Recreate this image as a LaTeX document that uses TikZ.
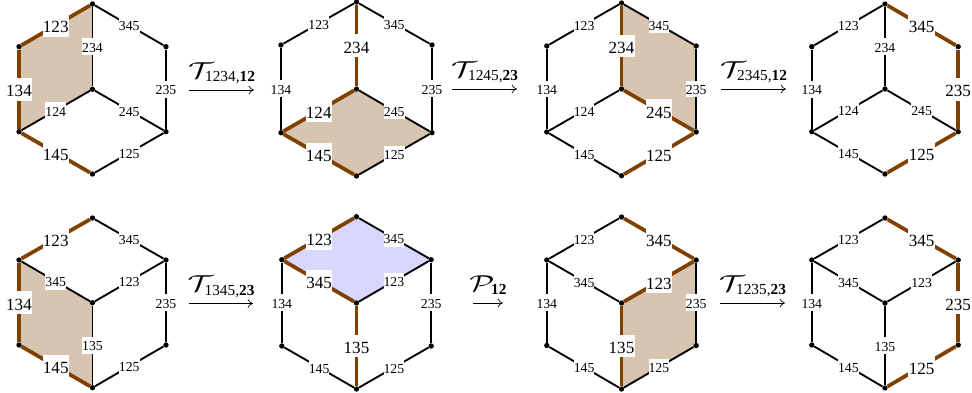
\documentclass[tikz,border=0pt]{standalone}
\usepackage{fontspec}
\setmainfont{Liberation Serif}
\usetikzlibrary{backgrounds,arrows.meta}
\definecolor{edgebrown}{HTML}{7F4000}
\definecolor{facetan}{HTML}{D8C5B1}
\definecolor{faceblue}{HTML}{D8D8FF}
\tikzset{
  vtx/.style={circle,fill=black,inner sep=0pt,minimum size=4pt},
  cold/.style={black,line width=1.4pt},
  hot/.style={edgebrown,line width=2.8pt},
  cold label/.style={fill=white,text=black,font=\fontsize{10.3}{11}\selectfont,inner xsep=0pt,inner ysep=0pt,text height=10.5pt,text depth=2.2pt},
  hot label/.style={fill=white,text=black,font=\fontsize{12.8}{14}\selectfont,inner xsep=0.3pt,inner ysep=0pt,text height=14.2pt,text depth=2.8pt},
  oparrow/.style={-{Computer Modern Rightarrow[length=4pt,width=6.5pt]},line width=0.5pt,black},
  oplabel/.style={anchor=base,yshift=8.8pt,inner sep=0pt,font=\fontsize{11.5}{12}\selectfont}
}
\begin{document}
\begin{tikzpicture}[x=0.75pt,y=-0.75pt]
    \useasboundingbox (0,0) rectangle (972,393);
    % operator name, kern, lower index
    \def\opname#1#2#3{{\fontsize{17}{18}\selectfont\scalebox{1.4}[1]{$\mathcal{#1}$}}\hspace{#2}\raisebox{-2.6pt}{#3}}
    % one call draws the nine edges of a hexagon
    \def\hexedges#1#2{\foreach \ea/\eb/\lbl/\kind in {#2} {
      \draw[\kind] (#1\ea) -- node[\kind\space label] (#1\ea\eb) {\lbl} (#1\eb);
    }}
    % corners: name / centre x / half width / five heights
    \foreach \hx/\cx/\hw/\yt/\yu/\yc/\yd/\yb in {
      p1/92.5/73.5/4/46.7/89.3/131.7/174,
      p2/356.5/75.5/2/45/89/132.7/176,
      p3/621.5/74.7/3/46/89/132/175.7,
      p4/885/73.2/4/46.7/89/131.7/174,
      p5/92.5/73.5/218/260/302.7/345/387.7,
      p6/356.5/74.7/216.7/259.7/303/346/389,
      p7/621.5/74.7/217/260/303/345.5/389,
      p8/885/73.2/218/260/303/345/388} {
      \node[vtx] (\hx t) at (\cx,\yt) {};
      \node[vtx] (\hx ul) at (\cx-\hw,\yu) {};
      \node[vtx] (\hx ll) at (\cx-\hw,\yd) {};
      \node[vtx] (\hx b) at (\cx,\yb) {};
      \node[vtx] (\hx lr) at (\cx+\hw,\yd) {};
      \node[vtx] (\hx ur) at (\cx+\hw,\yu) {};
      \node[vtx] (\hx c) at (\cx,\yc) {};
    }
    % shaded faces
    \begin{pgfonlayer}{background}
    \fill[facetan] (p1t.center) -- (p1ul.center) -- (p1ll.center) -- (p1c.center) -- cycle;
    \fill[facetan] (p2c.center) -- (p2ll.center) -- (p2b.center) -- (p2lr.center) -- cycle;
    \fill[facetan] (p3t.center) -- (p3ur.center) -- (p3lr.center) -- (p3c.center) -- cycle;
    \fill[facetan] (p5ul.center) -- (p5c.center) -- (p5b.center) -- (p5ll.center) -- cycle;
    \fill[faceblue] (p6t.center) -- (p6ur.center) -- (p6c.center) -- (p6ul.center) -- cycle;
    \fill[facetan] (p7c.center) -- (p7ur.center) -- (p7lr.center) -- (p7b.center) -- cycle;
    \end{pgfonlayer}
    % top row
    \hexedges{p1}{t/ul/123/hot, ul/ll/134/hot, ll/b/145/hot, b/lr/125/cold, lr/ur/235/cold, ur/t/345/cold, t/c/234/cold, c/ll/124/cold, c/lr/245/cold}
    \hexedges{p2}{t/ul/123/cold, ul/ll/134/cold, ll/b/145/hot, b/lr/125/cold, lr/ur/235/cold, ur/t/345/cold, t/c/234/hot, c/ll/124/hot, c/lr/245/cold}
    \hexedges{p3}{t/ul/123/cold, ul/ll/134/cold, ll/b/145/cold, b/lr/125/hot, lr/ur/235/cold, ur/t/345/cold, t/c/234/hot, c/ll/124/cold, c/lr/245/hot}
    \hexedges{p4}{t/ul/123/cold, ul/ll/134/cold, ll/b/145/cold, b/lr/125/hot, lr/ur/235/hot, ur/t/345/hot, t/c/234/cold, c/ll/124/cold, c/lr/245/cold}
    % bottom row
    \hexedges{p5}{t/ul/123/hot, ul/ll/134/hot, ll/b/145/hot, b/lr/125/cold, lr/ur/235/cold, ur/t/345/cold, ul/c/345/cold, c/ur/123/cold, c/b/135/cold}
    \hexedges{p6}{t/ul/123/hot, ul/ll/134/cold, ll/b/145/cold, b/lr/125/cold, lr/ur/235/cold, ur/t/345/cold, ul/c/345/hot, c/ur/123/cold, c/b/135/hot}
    \hexedges{p7}{t/ul/123/cold, ul/ll/134/cold, ll/b/145/cold, b/lr/125/cold, lr/ur/235/cold, ur/t/345/hot, ul/c/345/cold, c/ur/123/hot, c/b/135/hot}
    \hexedges{p8}{t/ul/123/cold, ul/ll/134/cold, ll/b/145/cold, b/lr/125/hot, lr/ur/235/hot, ur/t/345/hot, ul/c/345/cold, c/ur/123/cold, c/b/135/cold}
    % arrows between the hexagons
    \coordinate (a1) at (189,90);
    \coordinate (b1) at (254,90);
    \coordinate (a2) at (452,89);
    \coordinate (b2) at (517,89);
    \coordinate (a3) at (721,89);
    \coordinate (b3) at (786,89);
    \coordinate (a4) at (189,303.5);
    \coordinate (b4) at (253,303.5);
    \coordinate (a5) at (473,303);
    \coordinate (b5) at (503,303);
    \coordinate (a6) at (720,303);
    \coordinate (b6) at (785,303);
    \draw[oparrow] (a1) -- node[oplabel] (op1) {\opname{T}{-6.5pt}{1234,\textbf{12}}} (b1);
    \draw[oparrow] (a2) -- node[oplabel] (op2) {\opname{T}{-6.5pt}{1245,\textbf{23}}} (b2);
    \draw[oparrow] (a3) -- node[oplabel] (op3) {\opname{T}{-6.5pt}{2345,\textbf{12}}} (b3);
    \draw[oparrow] (a4) -- node[oplabel] (op4) {\opname{T}{-6.5pt}{1345,\textbf{23}}} (b4);
    \draw[oparrow] (a5) -- node[oplabel] (op5) {\opname{P}{-2.5pt}{\textbf{12}}} (b5);
    \draw[oparrow] (a6) -- node[oplabel] (op6) {\opname{T}{-6.5pt}{1235,\textbf{23}}} (b6);
\end{tikzpicture}
\end{document}
